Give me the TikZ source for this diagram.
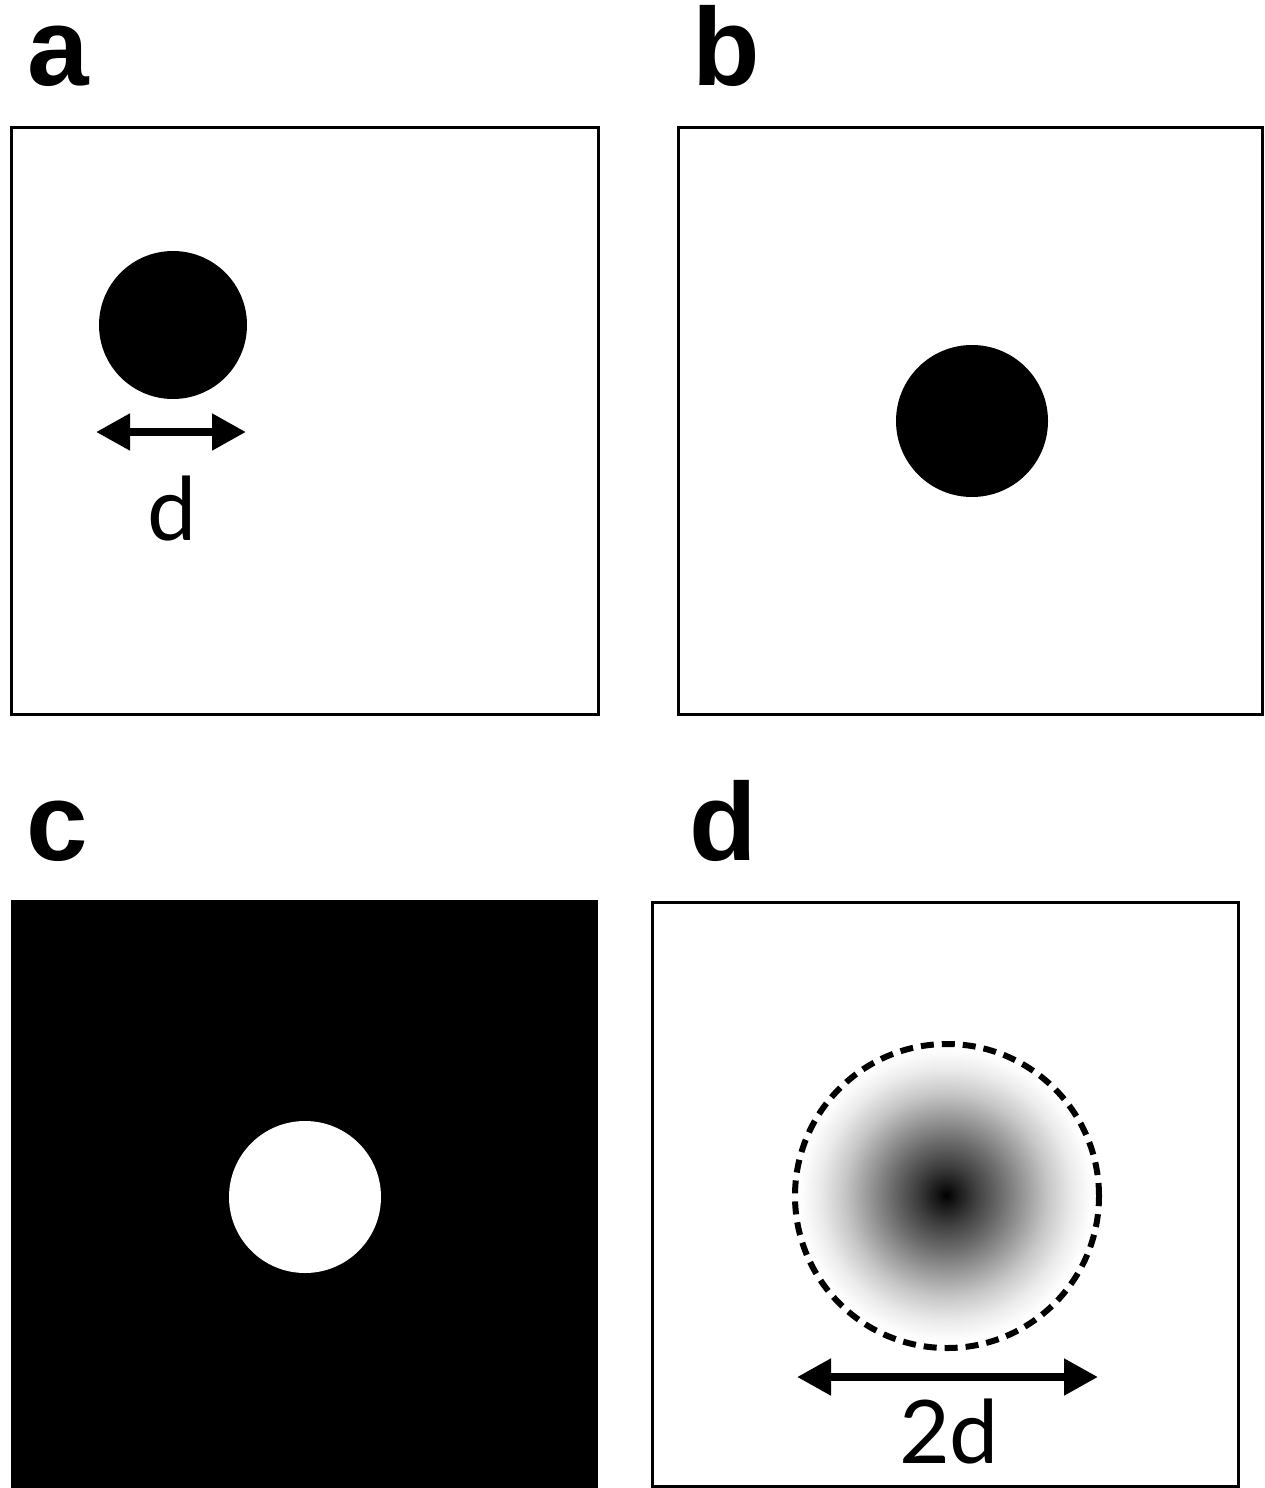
\documentclass[tikz,border=0pt]{standalone}
\usepackage{fontspec}
\setmainfont{Liberation Sans}
\newfontfamily\gillish{Lato}
\usetikzlibrary{arrows.meta}
\pgfdeclareradialshading{blurdot}{\pgfpoint{0bp}{0bp}}{%
  color(0bp)=(black); color(1.5bp)=(black!92); color(5bp)=(black!75);
  color(9bp)=(black!58); color(13bp)=(black!40); color(17bp)=(black!22);
  color(21bp)=(black!8); color(24bp)=(black!1); color(25bp)=(white); color(50bp)=(white)}
\tikzset{
  panel/.style={draw=black, line width=3bp, fill=white},
  plabel/.style={font=\fontsize{111}{111}\selectfont\bfseries, anchor=base, inner sep=0},
  dimlabel/.style={font=\gillish\fontsize{88}{88}\selectfont, anchor=base, inner sep=0},
  dot/.style={circle, inner sep=0, draw=none},
  dimarrow/.style={line width=8bp, {Triangle[length=34bp,width=35bp]}-{Triangle[length=34bp,width=35bp]}},
}
\begin{document}
\begin{tikzpicture}[x=1bp,y=-1bp]
\useasboundingbox (0,0) rectangle (1264,1488);
% labels
\node[plabel] (la) at (58,86) {a};
\node[plabel] (lb) at (726,86) {b};
\node[plabel] (lc) at (57,860) {c};
\node[plabel] (ld) at (723,860) {d};
% panel a
\draw[panel] (11,128) rectangle (598,714);
\node[dot, fill=black, minimum size=148bp] (dotA) at (173,325) {};
\coordinate (aL) at (96,432);
\coordinate (aR) at (246,432);
\draw[dimarrow] (aL) -- (aR);
\node[dimlabel] (dA) at (172,540) {d};
% panel b
\draw[panel] (678,128) rectangle (1262,714);
\node[dot, fill=black, minimum size=152bp] (dotB) at (972,421) {};
% panel c
\fill[black] (11,900) rectangle (598,1488);
\node[dot, fill=white, minimum size=152bp] (dotC) at (305,1197) {};
% panel d
\draw[panel] (652,902) rectangle (1238,1486);
\shade[shading=blurdot] (946,1195) circle[radius=150bp];
\node[dot, draw=black, line width=6bp, dash pattern=on 13bp off 8bp, minimum size=304bp] (ring) at (947,1196) {};
\coordinate (dL) at (797,1377);
\coordinate (dR) at (1098,1377);
\draw[dimarrow] (dL) -- (dR);
\node[dimlabel] (dD) at (949,1463) {2d};
\end{tikzpicture}
\end{document}
